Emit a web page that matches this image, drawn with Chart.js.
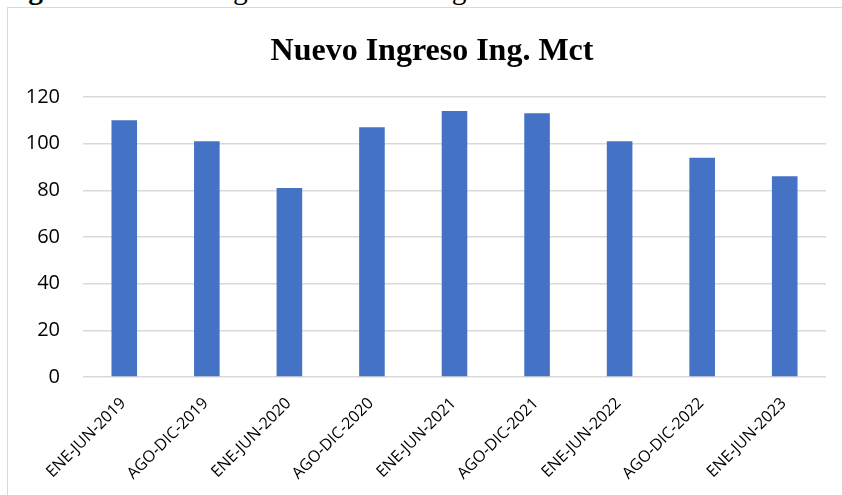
<!DOCTYPE html>
<html>
<head>
<meta charset="utf-8">
<script src="https://cdn.jsdelivr.net/npm/chart.js@4.4.0/dist/chart.umd.min.js"></script>
<style>
  html, body { margin: 0; padding: 0; width: 842px; height: 495px; overflow: hidden; background: #fff; }
  #frame { position: absolute; left: 7px; top: 7px; width: 1000px; height: 1000px;
           border-left: 1px solid #d9d9d9; border-top: 1px solid #d9d9d9; }
  #caption { position: absolute; left: 2px; top: -26px; font-family: "Liberation Serif", "Times New Roman", serif;
             font-size: 29.5px; line-height: 30px; white-space: nowrap; color: #000; }
  #wrap { position: absolute; left: 0; top: 0; width: 842px; height: 495px; }
</style>
</head>
<body>
<div id="frame"></div>
<div id="caption"><b>Figura 2.</b> Nuevo ingreso carrera de ingeniería Mecatrónica.</div>
<div id="wrap"><canvas id="c" width="842" height="495"></canvas></div>
<script>
const chartTitle = "Nuevo Ingreso Ing. Mct";
const categories = ["ENE-JUN-2019", "AGO-DIC-2019", "ENE-JUN-2020", "AGO-DIC-2020", "ENE-JUN-2021",
                    "AGO-DIC-2021", "ENE-JUN-2022", "AGO-DIC-2022", "ENE-JUN-2023"];
const values = [110, 101, 81, 107, 114, 113, 101, 94, 86];
const yMin = 0, yMax = 120, yStep = 20;

const titlePlugin = {
  id: 'customTitle',
  afterDraw(chart) {
    const ctx = chart.ctx;
    ctx.save();
    ctx.font = 'bold 32px "Liberation Serif", "Times New Roman", serif';
    ctx.fillStyle = '#000';
    ctx.textAlign = 'center';
    ctx.textBaseline = 'alphabetic';
    ctx.fillText(chartTitle, 432, 60);
    ctx.restore();
  }
};

new Chart(document.getElementById('c'), {
  type: 'bar',
  data: {
    labels: categories,
    datasets: [{
      data: values,
      backgroundColor: '#4472C4',
      borderWidth: 0,
      categoryPercentage: 1.0,
      barPercentage: 0.31
    }]
  },
  options: {
    responsive: false,
    animation: false,
    devicePixelRatio: 1,
    layout: { padding: { left: 0, right: 16, top: 97, bottom: 0 } },
    plugins: { legend: { display: false }, title: { display: false }, tooltip: { enabled: false } },
    scales: {
      x: {
        grid: { display: false },
        border: { display: false },
        ticks: {
          autoSkip: false, minRotation: 45, maxRotation: 45, padding: 9, labelOffset: -1,
          color: '#000',
          font: { family: '"Open Sans", sans-serif', size: 16 }
        },
        afterFit(scale) { scale.height = 118; }
      },
      y: {
        min: yMin, max: yMax,
        grid: { color: '#d9d9d9', lineWidth: 1.5, drawTicks: false },
        border: { display: false },
        ticks: {
          stepSize: yStep, padding: 23, color: '#000',
          font: { family: '"Open Sans", sans-serif', size: 20 }
        },
        afterFit(scale) { scale.width = 83; }
      }
    }
  },
  plugins: [titlePlugin]
});
</script>
</body>
</html>
